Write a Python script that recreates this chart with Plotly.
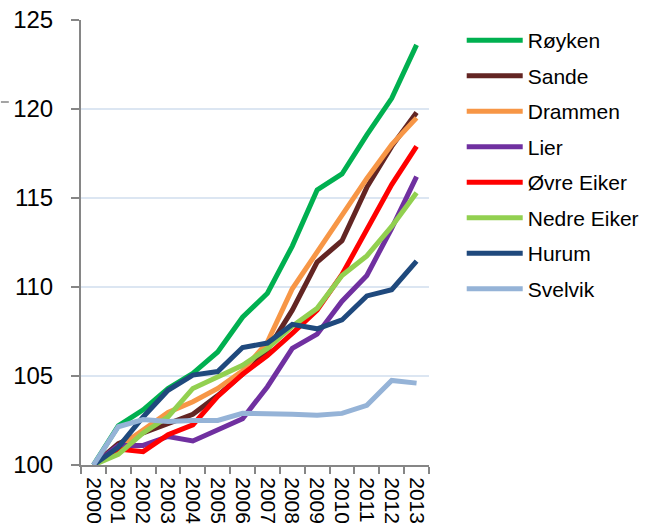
import plotly.graph_objects as go

years = [str(y) for y in range(2000, 2014)]

royken = [100, 102.2, 103.1, 104.3, 105.15, 106.35, 108.3, 109.65, 112.3, 115.45, 116.35, 118.55, 120.6, 123.6]
sande = [100, 101.2, 101.8, 102.3, 102.85, 103.9, 105.1, 106.45, 108.7, 111.4, 112.6, 115.6, 117.9, 119.8]
drammen = [100, 101.0, 101.95, 102.95, 103.55, 104.3, 105.3, 106.9, 109.9, 112.0, 114.0, 116.1, 118.0, 119.5]
lier = [100, 101.1, 101.1, 101.6, 101.35, 101.95, 102.6, 104.4, 106.55, 107.35, 109.2, 110.65, 113.3, 116.2]
ovre_eiker = [100, 100.9, 100.75, 101.7, 102.25, 103.85, 105.1, 106.15, 107.4, 108.7, 110.7, 113.2, 115.75, 117.9]
nedre_eiker = [100, 100.6, 101.8, 102.7, 104.3, 104.95, 105.6, 106.55, 107.8, 108.8, 110.65, 111.75, 113.4, 115.3]
hurum = [100, 101.0, 102.7, 104.2, 105.05, 105.25, 106.6, 106.85, 107.9, 107.65, 108.15, 109.5, 109.85, 111.45]
svelvik = [100, 102.15, 102.55, 102.45, 102.5, 102.5, 102.9, 102.9, 102.85, 102.8, 102.9, 103.35, 104.75, 104.6]

names = ["Røyken", "Sande", "Drammen", "Lier", "Øvre Eiker", "Nedre Eiker", "Hurum", "Svelvik"]
series = [royken, sande, drammen, lier, ovre_eiker, nedre_eiker, hurum, svelvik]
colors = ["#00B050", "#632523", "#F79646", "#7030A0", "#FF0000", "#92D050", "#1F497D", "#95B3D7"]
y_ticks = [100, 105, 110, 115, 120, 125]

xs = list(range(len(years)))
fig = go.Figure()
for n, s, c in zip(names, series, colors):
    fig.add_trace(go.Scatter(x=xs, y=s, name=n, mode="lines", legendgroup=n,
                             line=dict(color=c, width=5)))

font = "Liberation Sans, Arial, sans-serif"
fig.update_layout(
    width=656, height=527,
    margin=dict(l=81, r=223, t=20, b=62),
    plot_bgcolor="white", paper_bgcolor="white",
    font=dict(family=font, color="black"),
    showlegend=True,
    legend=dict(x=1.094, y=1.0, xanchor="left", yanchor="top",
                font=dict(size=21, family=font, color="black"),
                tracegroupgap=5.2, itemwidth=56, bgcolor="rgba(0,0,0,0)"),
    xaxis=dict(range=[-0.5, 13.5], tickmode="array", tickvals=xs, ticktext=years,
               tickangle=90, ticks="", showgrid=False, zeroline=False, automargin=False,
               showline=True, linecolor="#868686", linewidth=2, ticklabelstandoff=6,
               ticklabeloverflow="allow",
               tickfont=dict(size=21, family=font, color="black"),
               minor=dict(tickmode="array", tickvals=[i - 0.5 for i in range(len(years) + 1)],
                          ticks="outside", ticklen=7, tickcolor="#868686", tickwidth=2,
                          showgrid=False)),
    yaxis=dict(range=[100, 125], tickmode="array", tickvals=y_ticks,
               ticks="outside", ticklen=8, ticklabeloverflow="allow",
               tickcolor="#868686", tickwidth=2, showline=True, linecolor="#868686",
               linewidth=2, showgrid=True, gridcolor="#DCE6F2", gridwidth=1.5,
               zeroline=False, automargin=False, ticklabelstandoff=13,
               tickfont=dict(size=24, family=font, color="black")),
    shapes=[dict(type="line", xref="paper", yref="paper",
                 x0=-81 / 352, x1=-73 / 352, y0=(465 - 102) / 445, y1=(465 - 102) / 445,
                 line=dict(color="#868686", width=1.5))],
)
fig.write_html("out.html", config={"displayModeBar": False},
               post_script="document.body.style.margin='0';")
